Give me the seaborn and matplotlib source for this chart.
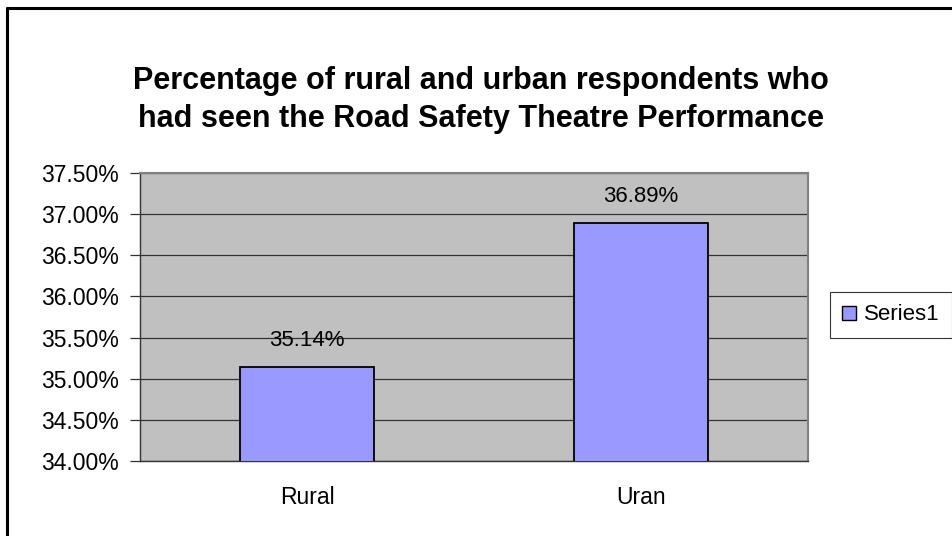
import pandas as pd
import numpy as np
import matplotlib.pyplot as plt
import seaborn as sns
from matplotlib.lines import Line2D
from matplotlib.patches import Patch

# Chart data
categories = ['Rural', 'Uran']
percent_seen = [35.14, 36.89]
y_ticks = [34.0, 34.5, 35.0, 35.5, 36.0, 36.5, 37.0, 37.5]
series_name = 'Series1'

df = pd.DataFrame({'Area': categories, 'Percent': percent_seen})

sns.set_style('white')
plt.rcParams['font.family'] = ['Liberation Sans', 'DejaVu Sans']
plt.rcParams['text.color'] = 'black'
plt.rcParams['xtick.labelcolor'] = 'black'
plt.rcParams['ytick.labelcolor'] = 'black'

W, H = 953, 536
fig = plt.figure(figsize=(W / 100, H / 100), dpi=100)
# plot area in pixel coords: left 140, right 808, top 173, bottom 461
ax = fig.add_axes([140 / W, 1 - 461 / H, (808 - 140) / W, (461 - 173) / H])
ax.set_facecolor('#C0C0C0')

sns.barplot(data=df, x='Area', y='Percent', ax=ax, color='#9999FF',
            saturation=1, width=0.4, edgecolor='black', linewidth=1.3, zorder=3)

ax.set_xlim(-0.5, 1.5)
ax.set_ylim(34.0, 37.5)
ax.set_yticks(y_ticks)
ax.set_yticklabels([f'{v:.2f}%' for v in y_ticks], fontsize=16.5)
ax.yaxis.grid(True, color='#333333', linewidth=0.9, zorder=0)
ax.set_axisbelow(True)
ax.tick_params(axis='y', direction='out', length=7, width=0.9, color='#333333', pad=8, left=True)

ax.set_xticks([0, 1])
ax.set_xticklabels(categories, fontsize=16.5)
ax.tick_params(axis='x', length=0, pad=18)
ax.set_xticks([0.5], minor=True)
ax.tick_params(axis='x', which='minor', direction='out', length=7, width=0.9, color='#333333')
ax.set_xlabel('')
ax.set_ylabel('')

for side in ['top', 'right']:
    ax.spines[side].set_color('#808080')
    ax.spines[side].set_linewidth(1.5)
for side in ['left', 'bottom']:
    ax.spines[side].set_color('#333333')
    ax.spines[side].set_linewidth(1.0)

for i, v in enumerate(percent_seen):
    ax.text(i, v + 0.2, f'{v:.2f}%', ha='center', va='bottom', fontsize=16, zorder=4)

fig.text(481 / W, 1 - 100 / H,
         'Percentage of rural and urban respondents who\nhad seen the Road Safety Theatre Performance',
         ha='center', va='center', fontsize=22, fontweight='bold', linespacing=1.32)

leg = fig.legend(handles=[Patch(facecolor='#9999FF', edgecolor='black', label=series_name)],
                 loc='center left', bbox_to_anchor=(830 / W, 1 - 315 / H),
                 fontsize=16, frameon=True, fancybox=False, handlelength=0.6, handleheight=0.6,
                 handletextpad=0.4, borderpad=0.55, borderaxespad=0)
leg.get_frame().set_edgecolor('black')
leg.get_frame().set_linewidth(0.8)

# outer chart border
fig.add_artist(Line2D([7 / W, 7 / W], [0, 1 - 8 / H], color='black', linewidth=2.2, transform=fig.transFigure))
fig.add_artist(Line2D([7 / W, 952 / W], [1 - 8 / H, 1 - 8 / H], color='black', linewidth=2.2, transform=fig.transFigure))

fig.savefig('out.png', dpi=100)
